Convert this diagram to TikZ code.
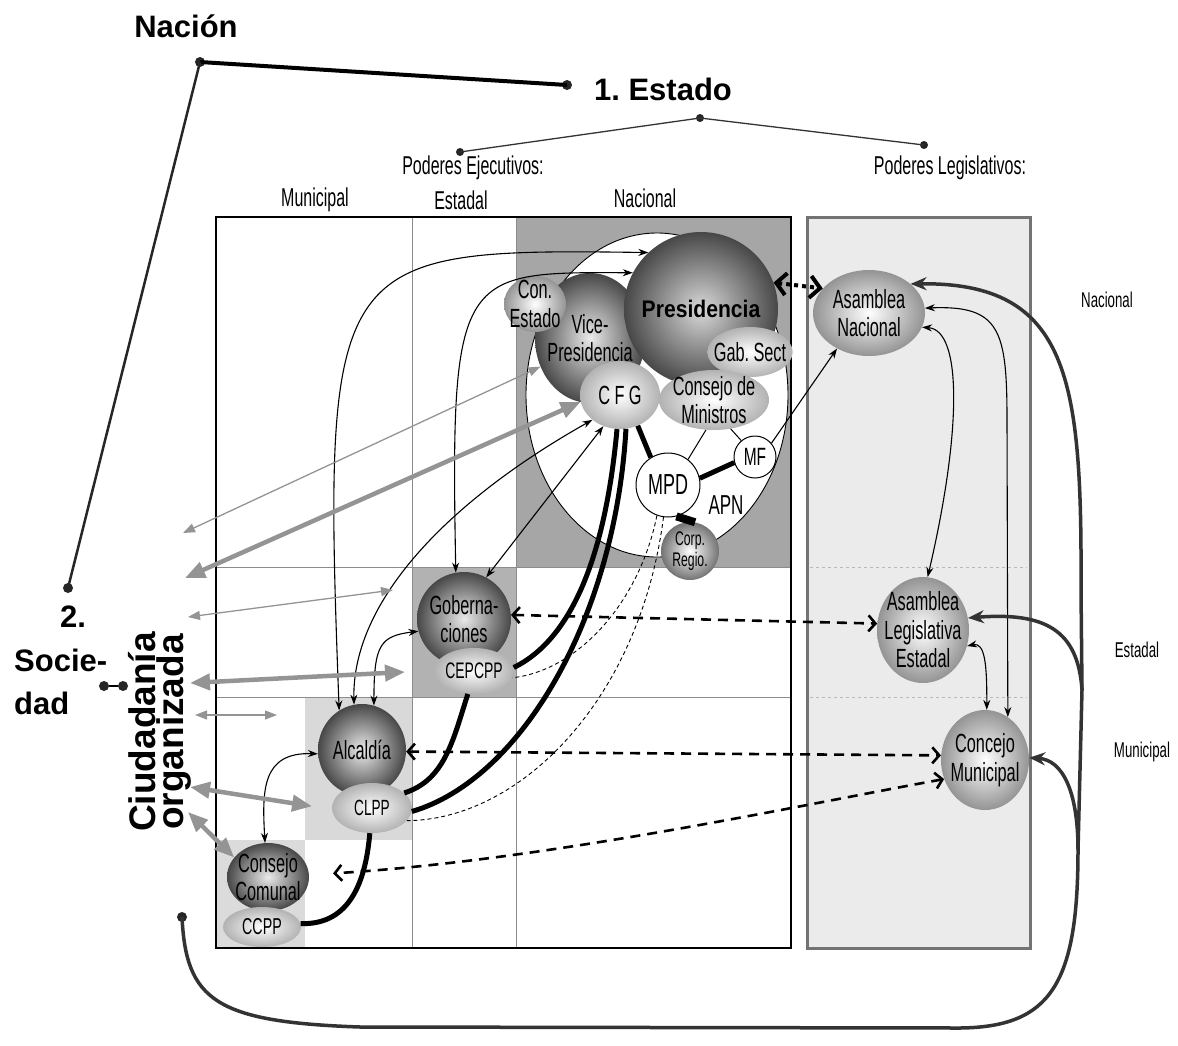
\documentclass[tikz,border=0pt]{standalone}
\usepackage{fontspec}
\setmainfont{Liberation Sans}
\newfontfamily\condfont[FakeStretch=0.62]{Liberation Sans}
\newfontfamily\presfont[FakeStretch=0.88]{Liberation Sans}
\usetikzlibrary{shapes.geometric, arrows.meta, positioning}

\newcommand\ballfont{\condfont\fontsize{26.3}{28.5}\selectfont}

\tikzset{
  lbl/.style={inner sep=0pt, font=\condfont\fontsize{25.8}{27}\selectfont},
  sidelbl/.style={inner sep=0pt, font=\condfont\fontsize{21.4}{23}\selectfont},
  ttl/.style={inner sep=0pt, font=\bfseries\fontsize{31}{33}\selectfont},
  blob/.style={circle, fill=black!85, inner sep=0pt, minimum size=10pt},
  darkball/.style={ellipse, inner sep=-6pt, align=center, font=\ballfont, shading=radial, inner color=black!8, outer color=black!72},
  paleball/.style={darkball, inner color=white, outer color=black!42},
  lightoval/.style={darkball, inner color=white, outer color=black!30},
  ring/.style={circle, draw, line width=1pt, fill=white, inner sep=0pt, font=\ballfont},
  duo/.style={line width=1.1pt, >={Stealth[length=10pt,width=7pt]}, <->},
  heavy/.style={line width=5pt},
  hint/.style={line width=0.9pt, dash pattern=on 4pt off 3pt},
  pact/.style={line width=2.6pt, dash pattern=on 10pt off 7pt, >={Straight Barb[length=7pt,width=16pt]}, <->},
  civic/.style={draw=black!42, line width=1.3pt, >={Triangle[length=12pt,width=9pt]}, <->},
  civicthick/.style={civic, line width=4.5pt, >={Triangle[length=20pt,width=16pt]}},
  tie/.style={line width=3.5pt, draw=black!80, >={Stealth[length=16pt,width=13pt]}}
}

\begin{document}
\begin{tikzpicture}[x=1pt, y=-1pt]
  \useasboundingbox (0,0) rectangle (1178,1045);
  \fill[white] (0,0) rectangle (1178,1045);

  \fill[black!35] (516,217) rectangle (791,567);
  \fill[black!30] (412,567) rectangle (516,697);
  \fill[black!15] (305,697) rectangle (412,840);
  \fill[black!14] (216,840) rectangle (305,948);
  \draw[black!45, line width=1pt] (412,217) -- (412,948) (516,217) -- (516,948)
    (216,567) -- (791,567) (216,697) -- (791,697);
  \draw[line width=2.5pt] (216,217) rectangle (791,948);
  \filldraw[fill=black!8, draw=black!55, line width=3pt] (807,217) rectangle (1030,948);
  \draw[black!28, dashed, line width=0.8pt] (810,567) -- (1027,567) (810,697) -- (1027,697);

  \node[ttl] at (186,26) (nacion) {Nación};
  \node[ttl] at (663,89) (estado) {1.\ Estado};
  \node[ttl, anchor=west] at (60,617) (dos) {2.};
  \node[ttl, anchor=west] at (14,660) (socie) {Socie-};
  \node[ttl, anchor=west] at (14,703) (dad) {dad};
  \node[ttl, rotate=90, align=center, font=\bfseries\fontsize{37}{27}\selectfont] at (160,732) (ciud) {Ciudadanía\\organizada};

  \node[lbl] at (473,168) (pe) {Poderes Ejecutivos:};
  \node[lbl] at (950,168) (pl) {Poderes Legislativos:};
  \node[lbl] at (315,200) (mun) {Municipal};
  \node[lbl] at (461,200) (est) {Estadal};
  \node[lbl] at (645,198) (nac) {Nacional};
  \node[sidelbl] at (1107,300) (rnac) {Nacional};
  \node[sidelbl] at (1137,650) (rest) {Estadal};
  \node[sidelbl] at (1142,752) (rmun) {Municipal};

  \node[blob] at (200,62) (nacdot) {};
  \node[blob] at (567,85) (estdot) {};
  \node[blob] at (68,588) (socdot) {};
  \node[blob, minimum size=8pt] at (460,152) (pedot) {};
  \node[blob, minimum size=8pt] at (700,118) (topdot) {};
  \node[blob, minimum size=8pt] at (924,145) (pldot) {};
  \node[blob] at (104,686) (sdotl) {};
  \node[blob] at (123,686) (sdotr) {};
  \node[blob] at (182,917) (cdot) {};
  \draw[line width=4pt] (nacdot.center) -- (estdot.center);
  \draw[line width=2.5pt, black!85] (nacdot.center) -- (socdot.center);
  \draw[line width=1.3pt, black!80] (pedot.center) -- (topdot.center) -- (pldot.center);
  \draw[line width=1.5pt] (sdotl) -- (sdotr);

  \node[ellipse, draw, line width=0.9pt, fill=white, minimum width=262pt, minimum height=324pt] at (657,395) (apn) {};
  \node[darkball, minimum width=110pt, minimum height=130pt] at (590,338) (vice) {Vice-\\Presidencia};
  \node[paleball, minimum width=62pt, minimum height=56pt] at (535,304) (conest) {Con.\\Estado};
  \node[darkball, minimum width=154pt, minimum height=154pt, inner color=black!15, font=\presfont\bfseries\fontsize{24}{26}\selectfont] at (701,309) (pres) {Presidencia};
  \node[lightoval, minimum width=80pt, minimum height=50pt] at (750,352) (gabsect) {Gab.\,Sect};
  \node[lightoval, minimum width=110pt, minimum height=60pt] at (714,400) (conmin) {Consejo de\\Ministros};
  \node[lightoval, minimum width=80pt, minimum height=68pt] at (620,395) (cfg) {C\,F\,G};
  \node[ring, minimum size=64pt, font=\condfont\fontsize{29}{31}\selectfont] at (668,485) (mpd) {MPD};
  \node[ring, minimum size=42pt, font=\condfont\fontsize{25}{27}\selectfont] at (755,457) (mf) {MF};
  \node[paleball, minimum width=58pt, minimum height=58pt, outer color=black!55, font=\condfont\fontsize{19.7}{21}\selectfont] at (690,551) (corp) {Corp.\\Regio.};
  \node[lbl, font=\condfont\fontsize{27.4}{29}\selectfont] at (726,505) (apnlbl) {APN};

  \node[darkball, minimum width=94pt, minimum height=94pt] at (464,619) (gob) {Goberna-\\ciones};
  \node[lightoval, minimum width=80pt, minimum height=46pt, font=\condfont\fontsize{22.5}{24}\selectfont] at (474,671) (cep) {CEPCPP};
  \node[darkball, minimum width=88pt, minimum height=92pt] at (362,750) (alc) {Alcaldía};
  \node[lightoval, minimum width=80pt, minimum height=50pt, font=\condfont\fontsize{22}{24}\selectfont] at (372,808) (clpp) {CLPP};
  \node[darkball, minimum width=82pt, minimum height=68pt] at (268,877) (cc) {Consejo\\Comunal};
  \node[lightoval, minimum width=78pt, minimum height=40pt, font=\condfont\fontsize{23}{24}\selectfont] at (262,927) (ccpp) {CCPP};

  \node[paleball, minimum width=112pt, minimum height=86pt] at (869,313) (an) {Asamblea\\Nacional};
  \node[paleball, minimum width=90pt, minimum height=106pt] at (923,630) (ale) {Asamblea\\Legislativa\\Estadal};
  \node[paleball, minimum width=88pt, minimum height=100pt] at (985,760) (cm) {Concejo\\Municipal};

  \draw[duo] (alc.120) .. controls (322,255) and (330,248) .. (pres.133);
  \draw[duo] (gob.100) .. controls (450,270) and (460,272) .. (pres.152);
  \draw[duo] (cfg.222) .. controls (450,500) and (352,600) .. (alc.100);
  \draw[duo] (cfg.242) -- (gob.62);
  \draw[duo] (alc.75) .. controls (374,645) and (380,636) .. (gob.195);
  \draw[duo] (alc.185) .. controls (262,752) and (262,790) .. (cc.95);
  \draw[duo] (an.5) .. controls (1000,305) and (1007,330) .. (1007,420) -- (cm.62);
  \draw[duo] (an.345) .. controls (962,330) and (962,430) .. (ale.85);
  \draw[duo] (ale.340) .. controls (985,642) and (987,665) .. (cm.88);
  \draw[duo, <-] (an.228) -- (mf.40);
  \draw[line width=1pt] (conmin.300) -- (mf.130);
  \draw[line width=1pt] (conmin.255) -- (mpd.52);

  \draw[heavy] (cfg.265) .. controls (605,560) and (570,640) .. (cep.5);
  \draw[heavy] (cfg.280) .. controls (615,620) and (520,780) .. (clpp.355);
  \draw[heavy] (cep.255) .. controls (453,740) and (445,780) .. (clpp.25);
  \draw[heavy] (clpp.265) .. controls (365,890) and (345,925) .. (ccpp.5);
  \draw[heavy] (cfg.300) -- (mpd.122);
  \draw[heavy] (mpd.12) -- (mf.195);
  \draw[line width=8pt] (mpd.285) -- (corp.80);

  \draw[hint] (mpd.250) .. controls (640,600) and (580,670) .. (cep.350);
  \draw[hint] (mpd.262) .. controls (640,700) and (520,820) .. (clpp.340);

  \draw[pact] (gob.5) -- (ale.172);
  \draw[pact] (alc.358) -- (cm.174);
  \draw[pact, shorten >=24pt] (cm.205) .. controls (800,805) and (550,860) .. (cc.3);
  \draw[line width=4pt, dash pattern=on 4pt off 4pt, >={Straight Barb[length=10pt,width=22pt]}, <->] (pres.20) -- (an.152);

  \coordinate (c1) at (183,533);
  \coordinate (c2) at (185,578);
  \coordinate (c3) at (188,617);
  \coordinate (c4) at (190,683);
  \coordinate (c5) at (195,715);
  \coordinate (c6) at (190,787);
  \coordinate (c7) at (188,812);
  \coordinate (g3e) at (393,590);
  \coordinate (g4e) at (405,672);
  \coordinate (g5e) at (277,715);
  \draw[civic] (c1) -- (vice.210);
  \draw[civicthick] (c2) -- (cfg.190);
  \draw[civic] (c3) -- (g3e);
  \draw[civicthick] (c4) -- (g4e);
  \draw[civic] (c5) -- (g5e);
  \draw[civicthick, shorten >=20pt] (c6) -- (clpp.182);
  \draw[civicthick] (c7) -- (cc.150);

  \coordinate (jlow) at (1078,850);
  \coordinate (jmid) at (1082,690);
  \coordinate (jtop) at (1081,590);
  \draw[tie] (cdot.center) .. controls (186,1000) and (215,1022) .. (360,1027) -- (960,1028)
    .. controls (1050,1027) and (1078,985) .. (jlow) -- (jmid) -- (jtop);
  \draw[tie, ->] (jtop) .. controls (1082,380) and (1070,282) .. (an.35);
  \draw[tie, ->] (jmid) .. controls (1078,630) and (1045,612) .. (ale.15);
  \draw[tie, ->] (jlow) .. controls (1078,790) and (1062,760) .. (cm.3);
\end{tikzpicture}
\end{document}
